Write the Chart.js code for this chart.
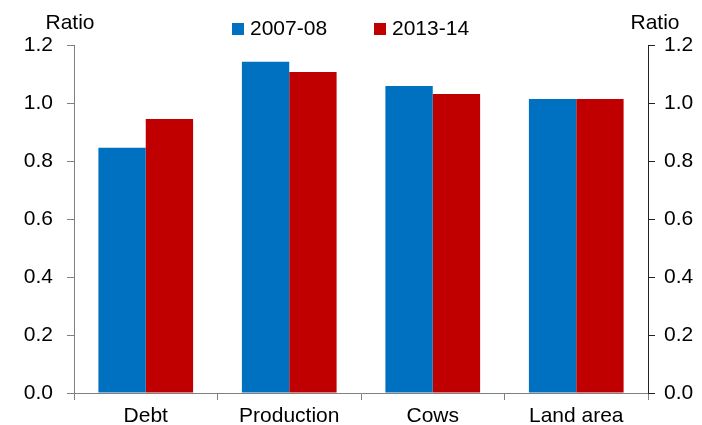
<!DOCTYPE html>
<html>
<head>
<meta charset="utf-8">
<script src="https://cdn.jsdelivr.net/npm/chart.js@4.4.1/dist/chart.umd.min.js"></script>
<style>
html, body { margin: 0; padding: 0; background: #fff; }
#wrap { width: 702px; height: 425px; }
</style>
</head>
<body>
<div id="wrap"><canvas id="c" width="702" height="425"></canvas></div>
<script>
// 資料
const categories = ['Debt', 'Production', 'Cows', 'Land area'];
const seriesNames = ['2007-08', '2013-14'];
const values0708 = [0.846, 1.142, 1.059, 1.014];
const values1314 = [0.945, 1.107, 1.031, 1.014];
const yMin = 0;
const yMax = 1.2;
const yStep = 0.2;
const axisTitle = 'Ratio';

const blue = '#0070C0';
const red = '#C00000';
const fontFamily = "'Liberation Sans', Arial, sans-serif";

Chart.defaults.font.family = fontFamily;
Chart.defaults.font.size = 21;
Chart.defaults.color = '#000';

// 圖例與軸標題 (Ratio)
const extraText = {
    id: 'extraText',
    afterDraw(chart) {
        const c = chart.ctx;
        c.save();
        c.font = '21px ' + fontFamily;
        c.fillStyle = '#000';
        c.textBaseline = 'alphabetic';
        // 軸標題
        c.textAlign = 'center';
        c.fillText(axisTitle, chart.scales.y.right - 4, 29);
        c.fillText(axisTitle, chart.scales.y2.left + 7, 29);
        // 圖例
        const legendX = [232, 374];
        c.textAlign = 'left';
        chart.data.datasets.forEach((ds, i) => {
            c.fillStyle = ds.backgroundColor;
            c.fillRect(legendX[i], 23, 12, 12);
            c.fillStyle = '#000';
            c.fillText(ds.label, legendX[i] + 18, 35);
        });
        c.restore();
    }
};

const yAxis = (position, borderColor, width, pad) => ({
    position: position,
    min: yMin,
    max: yMax,
    grid: {
        drawOnChartArea: false,
        tickLength: 7,
        tickColor: borderColor,
    },
    border: { color: borderColor, width: 1 },
    ticks: {
        stepSize: yStep,
        padding: pad,
        callback: v => v.toFixed(1),
    },
    afterFit(scale) { scale.width = width; },
});

new Chart(document.getElementById('c'), {
    type: 'bar',
    data: {
        labels: categories,
        datasets: [
            { label: seriesNames[0], data: values0708, backgroundColor: blue },
            { label: seriesNames[1], data: values1314, backgroundColor: red },
        ]
    },
    options: {
        responsive: false,
        animation: false,
        barPercentage: 1,
        categoryPercentage: 0.66,
        layout: { padding: { top: 45, left: 0, right: 0, bottom: 0 } },
        plugins: {
            legend: { display: false },
            tooltip: { enabled: false },
        },
        scales: {
            x: {
                grid: {
                    offset: true,
                    drawOnChartArea: false,
                    tickLength: 7,
                    tickColor: '#808080',
                },
                border: { color: '#808080', width: 1 },
                ticks: { padding: 4, maxRotation: 0 },
                afterFit(scale) { scale.height = 32; },
            },
            y: yAxis('left', '#808080', 74, 14),
            y2: yAxis('right', '#222', 54, 9),
        },
    },
    plugins: [extraText],
});
</script>
</body>
</html>
